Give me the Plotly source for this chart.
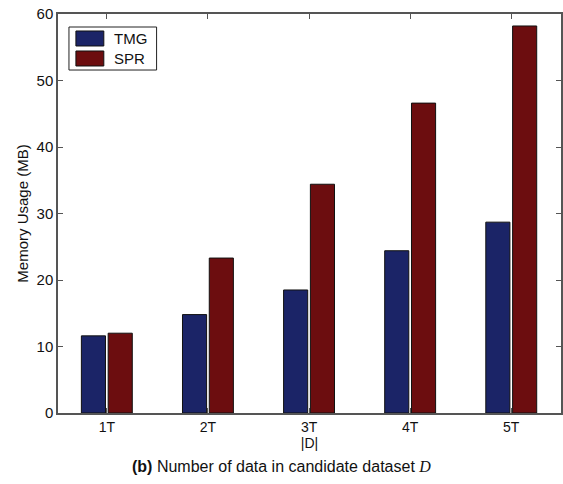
import plotly.graph_objects as go

categories = ["1T", "2T", "3T", "4T", "5T"]
tmg = [11.6, 14.8, 18.5, 24.4, 28.7]
spr = [12.0, 23.3, 34.4, 46.6, 58.2]
yticks = [0, 10, 20, 30, 40, 50, 60]
series_names = ["TMG", "SPR"]
series_colors = ["#1b2467", "#6c0d0f"]

FONT = "Liberation Sans, Arial, sans-serif"

fig = go.Figure()
for name, vals, col in zip(series_names, [tmg, spr], series_colors):
    fig.add_trace(go.Bar(x=categories, y=vals, name=name,
                         marker=dict(color=col, line=dict(color="#111111", width=1))))

axis_common = dict(showline=True, linecolor="#555555", linewidth=1.5, mirror="ticks",
                   ticks="inside", ticklen=5, tickcolor="#555555", showgrid=False,
                   zeroline=False)

fig.update_layout(
    width=563, height=484,
    margin=dict(l=58, r=0, t=14, b=71),
    paper_bgcolor="white", plot_bgcolor="white",
    barmode="group", bargap=0.47, bargroupgap=0.1,
    font=dict(family=FONT, color="#222222"),
    xaxis=dict(**axis_common, type="category", range=[-0.483, 4.492],
               tickfont=dict(family=FONT, size=14, color="#111111"),
               title=dict(text="|D|", font=dict(family=FONT, size=14, color="#111111"), standoff=4)),
    yaxis=dict(**axis_common, range=[0, 60], tickvals=yticks,
               tickfont=dict(family=FONT, size=15, color="#111111"),
               title=dict(text="Memory Usage (MB)", font=dict(family=FONT, size=15, color="#111111"), standoff=4)),
    showlegend=False,
)

# Manual legend (box, wide swatches, labels) in paper coordinates
fig.add_shape(type="rect", xref="paper", yref="paper", x0=0.0218, x1=0.1960, y0=0.8596, y1=0.9674,
              line=dict(color="#222222", width=1), fillcolor="white", layer="above")
sw_y = [(0.9198, 0.9574), (0.8697, 0.9073)]
for (y0, y1), name, col in zip(sw_y, series_names, series_colors):
    fig.add_shape(type="rect", xref="paper", yref="paper", x0=0.0356, x1=0.0911, y0=y0, y1=y1,
                  line=dict(color="#111111", width=1), fillcolor=col, layer="above")
    fig.add_annotation(xref="paper", yref="paper", x=0.107, y=(y0 + y1) / 2, xanchor="left",
                       yanchor="middle", text=name, showarrow=False,
                       font=dict(family=FONT, size=15, color="#111111"))

fig.add_annotation(
    xref="paper", yref="paper", x=0.445, y=-0.133, xanchor="center", yanchor="middle",
    text="<b>(b)</b> Number of data in candidate dataset <i><span style='font-family:Liberation Serif, Times New Roman, serif'>D</span></i>",
    showarrow=False, font=dict(family=FONT, size=16, color="#111111"),
)

fig.write_html("out.html")
